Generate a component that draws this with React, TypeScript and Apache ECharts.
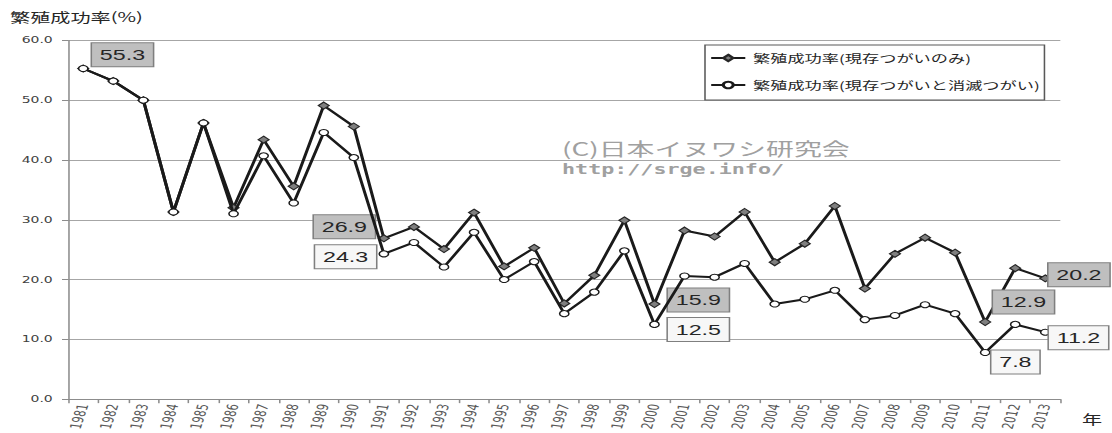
import React, { useEffect, useRef } from "react";
import * as echarts from "echarts";

// ---- data ----
const years: string[] = [
  "1981", "1982", "1983", "1984", "1985", "1986", "1987", "1988", "1989", "1990",
  "1991", "1992", "1993", "1994", "1995", "1996", "1997", "1998", "1999", "2000",
  "2001", "2002", "2003", "2004", "2005", "2006", "2007", "2008", "2009", "2010",
  "2011", "2012", "2013",
];

const seriesNames: string[] = [
  "繁殖成功率(現存つがいのみ)",
  "繁殖成功率(現存つがいと消滅つがい)",
];

const existingOnly: number[] = [
  55.3, 53.2, 50.0, 31.3, 46.2, 32.0, 43.4, 35.6, 49.1, 45.6,
  26.9, 28.8, 25.1, 31.2, 22.2, 25.3, 16.0, 20.7, 29.9, 15.9,
  28.2, 27.2, 31.3, 22.9, 26.0, 32.3, 18.5, 24.3, 27.0, 24.5,
  12.9, 21.9, 20.2,
];

const withLost: number[] = [
  55.3, 53.2, 50.0, 31.3, 46.2, 31.0, 40.7, 32.8, 44.6, 40.4,
  24.3, 26.2, 22.1, 27.9, 20.0, 23.0, 14.3, 17.9, 24.8, 12.5,
  20.6, 20.4, 22.7, 15.9, 16.7, 18.2, 13.3, 14.0, 15.8, 14.3,
  7.8, 12.5, 11.2,
];

const yTicks = { min: 0, max: 60, interval: 10 };

const yAxisTitle = "繁殖成功率(%)";
const xAxisUnit = "年";
const watermark1 = "(C)日本イヌワシ研究会";
const watermark2 = "http://srge.info/";

// ---- label placement (style: offsets from the marker, internal px) ----
const labelOffsets1: Record<string, [number, number]> = {
  "1981": [25.3, -13.7],
  "1991": [-25.5, -11.5],
  "2000": [28.3, -4],
  "2011": [24.7, -20],
  "2013": [21.7, -3.5],
};
const labelOffsets2: Record<string, [number, number]> = {
  "1991": [-24.7, 3],
  "2000": [28.3, 5],
  "2011": [19.5, 9.5],
  "2013": [21.4, 5.5],
};

const STRETCH = 1.55;
const W = 1112 / STRETCH;
const H = 433;

function buildData(values: number[], offsets: Record<string, [number, number]>) {
  return values.map((v, i) => {
    const off = offsets[years[i]];
    if (!off) return { value: v };
    return { value: v, label: { show: true, position: "inside", offset: off } };
  });
}

export default function App() {
  const ref = useRef<HTMLDivElement>(null);

  useEffect(() => {
    if (!ref.current) return;
    const chart = echarts.init(ref.current, undefined, { renderer: "svg" });
    const cjk = "'Noto Sans CJK JP', 'Noto Sans', sans-serif";
    const labelBase = {
      show: false,
      formatter: (p: any) => Number(p.value).toFixed(1),
      fontFamily: "'Liberation Sans', sans-serif",
      fontSize: 15,
      lineHeight: 17,
      color: "#262626",
      borderWidth: 1,
      borderColor: "#7f7f7f",
      padding: [3, 5],
    };
    chart.setOption({
      animation: false,
      textStyle: { fontFamily: "'DejaVu Sans', 'Noto Sans CJK JP', sans-serif" },
      grid: { left: 44, right: W - 684.5, top: 40.4, bottom: 31, containLabel: false },
      xAxis: {
        type: "category",
        data: years,
        boundaryGap: true,
        axisLine: { show: true, lineStyle: { color: "#8c8c8c", width: 1 } },
        axisTick: { show: true, length: 4, lineStyle: { color: "#8c8c8c" } },
        axisLabel: {
          interval: 0,
          rotate: 78,
          fontSize: 10,
          color: "#595959",
          margin: 5,
          fontFamily: "'DejaVu Sans', sans-serif",
        },
        splitLine: { show: false },
      },
      yAxis: {
        type: "value",
        min: yTicks.min,
        max: yTicks.max,
        interval: yTicks.interval,
        axisLine: { show: true, lineStyle: { color: "#8c8c8c", width: 1 } },
        axisTick: { show: true, length: 4, lineStyle: { color: "#8c8c8c" } },
        axisLabel: {
          formatter: (v: number) => v.toFixed(1),
          fontSize: 9,
          color: "#404040",
          margin: 10,
          fontFamily: "'DejaVu Sans', sans-serif",
        },
        splitLine: { show: true, lineStyle: { color: "#a6a6a6", width: 1 } },
      },
      legend: {
        orient: "vertical",
        left: 705 / STRETCH,
        top: 45,
        padding: [6, 3, 8, 3],
        itemGap: 13,
        itemWidth: 22,
        itemHeight: 8,
        borderColor: "#595959",
        borderWidth: 1,
        borderRadius: 0,
        backgroundColor: "#ffffff",
        data: seriesNames,
        textStyle: { fontFamily: cjk, fontSize: 11.1, lineHeight: 14, color: "#262626" },
      },
      graphic: [
        {
          type: "text",
          left: 6.5,
          top: 10,
          style: { text: yAxisTitle, fontSize: 13, fontFamily: cjk, fill: "#262626" },
        },
        {
          type: "text",
          left: 698,
          top: 412,
          style: { text: xAxisUnit, fontSize: 13, fontFamily: cjk, fill: "#262626" },
        },
        {
          type: "text",
          left: 362.6,
          top: 139,
          z: 1,
          style: { text: watermark1, fontSize: 18, fontFamily: cjk, fill: "#a0a0a0" },
        },
        {
          type: "text",
          left: 362.6,
          top: 162,
          z: 1,
          style: {
            text: watermark2,
            fontSize: 14,
            fontWeight: "bold",
            fontFamily: "'DejaVu Sans Mono', monospace",
            fill: "#a0a0a0",
          },
        },
      ],
      series: [
        {
          name: seriesNames[0],
          type: "line",
          data: buildData(existingOnly, labelOffsets1),
          symbol: "diamond",
          symbolSize: [7, 7],
          showAllSymbol: true,
          lineStyle: { color: "#1a1a1a", width: 2 },
          itemStyle: { color: "#7f7f7f", borderColor: "#262626", borderWidth: 1 },
          label: { ...labelBase, backgroundColor: "#bfbfbf" },
          emphasis: { disabled: true },
          z: 3,
        },
        {
          name: seriesNames[1],
          type: "line",
          data: buildData(withLost, labelOffsets2),
          symbol: "circle",
          symbolSize: 6,
          showAllSymbol: true,
          lineStyle: { color: "#1a1a1a", width: 2 },
          itemStyle: { color: "#ffffff", borderColor: "#1a1a1a", borderWidth: 1 },
          label: { ...labelBase, backgroundColor: "#f7f7f7" },
          emphasis: { disabled: true },
          z: 4,
        },
      ],
    });
    return () => chart.dispose();
  }, []);

  return (
    <div
      ref={ref}
      style={{
        position: "absolute",
        left: 0,
        top: 0,
        width: W + "px",
        height: H + "px",
        transform: `scaleX(${STRETCH})`,
        transformOrigin: "0 0",
        background: "#ffffff",
      }}
    />
  );
}
